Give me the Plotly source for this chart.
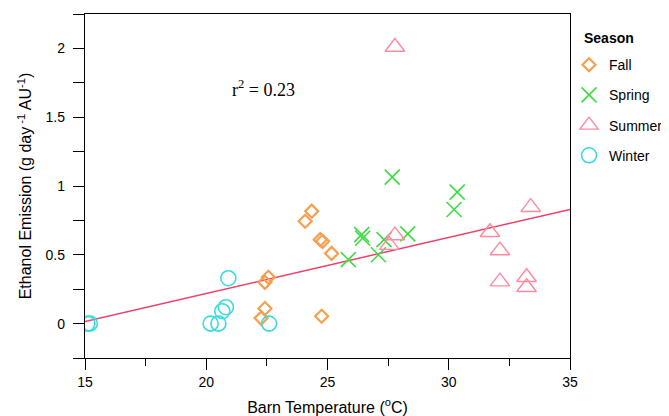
import plotly.graph_objects as go

# Data
fall_x = [24.35, 24.08, 24.70, 24.80, 25.17, 22.56, 22.42, 22.42, 22.26, 24.76]
fall_y = [0.817, 0.744, 0.610, 0.598, 0.510, 0.337, 0.300, 0.110, 0.040, 0.053]

spring_x = [27.67, 26.41, 26.45, 27.33, 28.31, 25.86, 27.10, 30.35, 30.22]
spring_y = [1.064, 0.647, 0.620, 0.610, 0.652, 0.465, 0.500, 0.955, 0.829]

summer_x = [27.78, 27.78, 27.55, 33.38, 31.70, 32.11, 32.11, 33.21, 33.21]
summer_y = [2.010, 0.640, 0.570, 0.846, 0.664, 0.531, 0.305, 0.337, 0.264]

winter_x = [15.10, 15.20, 20.18, 20.50, 20.66, 20.81, 20.91, 22.59]
winter_y = [0.000, 0.000, 0.000, 0.000, 0.090, 0.119, 0.330, 0.000]

fit_x = [15, 35]
fit_y = [0.015, 0.830]

x_ticks = [15, 20, 25, 30, 35]
y_ticks = [0, 0.5, 1, 1.5, 2]
y_tick_text = ["0", "0.5", "1", "1.5", "2"]

FALL_C = "#F5A050"
SPRING_C = "#3EDC44"
SUMMER_C = "#FF8AA0"
WINTER_C = "#38DCDC"
LINE_C = "#EE4068"

fig = go.Figure()

fig.add_trace(go.Scatter(
    x=fit_x, y=fit_y, mode="lines", line=dict(color=LINE_C, width=1.5),
    showlegend=False, hoverinfo="skip"))

fig.add_trace(go.Scatter(
    x=fall_x, y=fall_y, mode="markers", name="Fall", legendgroup="fall",
    marker=dict(symbol="diamond-open", size=10, color=FALL_C, line=dict(width=2.2, color=FALL_C))))
fig.add_trace(go.Scatter(
    x=spring_x, y=spring_y, mode="markers", name="Spring", legendgroup="spring",
    marker=dict(symbol="x-thin-open", size=15, color=SPRING_C, line=dict(width=1.6, color=SPRING_C))))
fig.add_trace(go.Scatter(
    x=summer_x, y=summer_y, mode="markers", name="Summer", legendgroup="summer",
    marker=dict(symbol="triangle-up-open", size=17, color=SUMMER_C, line=dict(width=1.4, color=SUMMER_C))))
fig.add_trace(go.Scatter(
    x=winter_x, y=winter_y, mode="markers", name="Winter", legendgroup="winter",
    marker=dict(symbol="circle-open", size=15, color=WINTER_C, line=dict(width=1.6, color=WINTER_C))))

fig.add_annotation(
    x=22.35, y=1.71, xref="x", yref="y", showarrow=False,
    text="r<sup>2</sup> = 0.23",
    font=dict(family="Liberation Serif, Times New Roman, serif", size=18, color="black"))

# legend title drawn as its own text so the legend entries can sit closer to it
fig.add_annotation(
    x=1.025, y=0.930, xref="paper", yref="paper", xanchor="left", yanchor="middle",
    showarrow=False, text="<b>Season</b>",
    font=dict(family="Liberation Sans, Arial, sans-serif", size=14, color="black"))

# page body has an 8px margin, so the figure is sized/offset accordingly
fig.update_layout(
    width=661, height=408,
    margin=dict(l=77, r=99, t=6, b=58, autoexpand=False),
    paper_bgcolor="white", plot_bgcolor="white",
    font=dict(family="Liberation Sans, Arial, sans-serif", size=13, color="black"),
    legend=dict(
        x=0.998, y=0.898, xanchor="left", yanchor="top",
        font=dict(size=14), tracegroupgap=9, itemwidth=30,
        bgcolor="rgba(0,0,0,0)"),
    showlegend=True,
)

fig.update_xaxes(
    range=[15, 35], tickvals=x_ticks, ticks="outside", ticklen=11, tickwidth=1,
    tickcolor="black", showline=True, linecolor="black", linewidth=1.3, mirror=True,
    showgrid=False, zeroline=False, automargin=False,
    minor=dict(dtick=2.5, tick0=15, ticks="outside", ticklen=7, tickcolor="black", showgrid=False),
    title=dict(text="Barn Temperature (<sup>o</sup>C)", font=dict(size=16), standoff=12),
    tickfont=dict(size=14))

fig.update_yaxes(
    range=[-0.25, 2.25], tickvals=y_ticks, ticktext=y_tick_text, ticks="outside", ticklen=11,
    tickwidth=1, tickcolor="black", showline=True, linecolor="black", linewidth=1.3,
    mirror=True, showgrid=False, zeroline=False, automargin=False, ticklabelstandoff=5,
    minor=dict(dtick=0.25, tick0=0, ticks="outside", ticklen=11, tickcolor="black", showgrid=False),
    title=dict(text="Ethanol Emission (g day<sup> -1</sup> AU<sup>-1</sup>)", font=dict(size=16), standoff=9),
    tickfont=dict(size=14))

fig.write_html("out.html")
